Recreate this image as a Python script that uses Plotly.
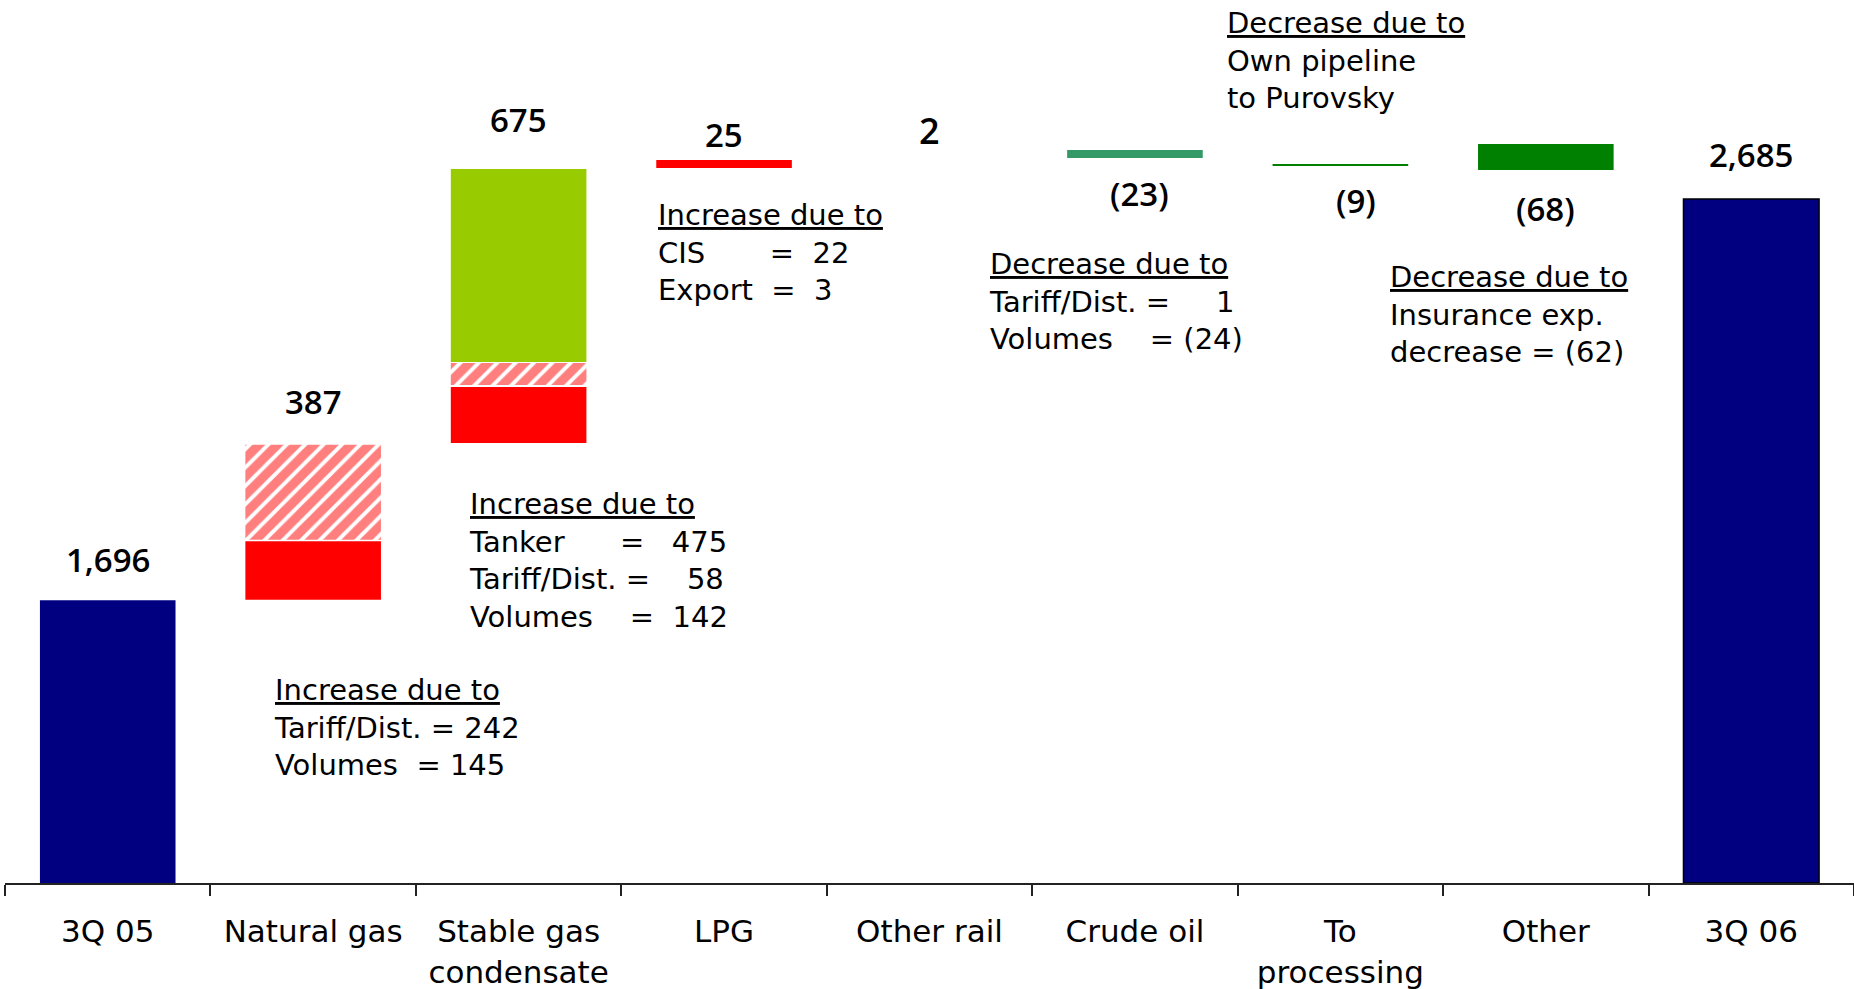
import plotly.graph_objects as go

# categories along the x axis
categories = [
    "3Q 05", "Natural gas", "Stable gas<br>condensate", "LPG", "Other rail",
    "Crude oil", "To<br>processing", "Other", "3Q 06",
]

# reported figures shown above each column
value_labels = ["1,696", "387", "675", "25", "2", "(23)", "(9)", "(68)", "2,685"]
# vertical position of each figure, read off the (not-to-scale) graphic
value_label_y = [1944, 2892, 4584, 4494, 4518, 4140, 4098, 4050, 4374]

# segment heights as drawn in the graphic (broken scale), chart units
total_x = ["3Q 05", "3Q 06"]
total_height = [1696, 4104]

red_x = ["Natural gas", "Stable gas<br>condensate", "LPG"]
red_base = [1700, 2640, 4290]
red_height = [350, 336, 48]

hatch_x = ["Natural gas", "Stable gas<br>condensate"]
hatch_base = [2060, 2988]
hatch_height = [570, 132]

lime_x = ["Stable gas<br>condensate"]
lime_base = [3126]
lime_height = [1158]

teal_x = ["Crude oil"]
teal_base = [4350]
teal_height = [48]

green_x = ["To<br>processing", "Other"]
green_base = [4302, 4278]
green_height = [12, 156]

# explanation boxes: header, detail lines, left edge (category index), middle y
note_headers = [
    "Increase due to", "Increase due to", "Increase due to",
    "Decrease due to", "Decrease due to", "Decrease due to",
]
note_lines = [
    ["Tariff/Dist. = 242", "Volumes\u00a0\u00a0= 145"],
    ["Tanker\u00a0\u00a0\u00a0\u00a0\u00a0\u00a0=\u00a0\u00a0\u00a0475",
     "Tariff/Dist. =\u00a0\u00a0\u00a0\u00a058",
     "Volumes\u00a0\u00a0\u00a0\u00a0=\u00a0\u00a0142"],
    ["CIS\u00a0\u00a0\u00a0\u00a0\u00a0\u00a0\u00a0=\u00a0\u00a022",
     "Export\u00a0\u00a0=\u00a0\u00a03"],
    ["Tariff/Dist. =\u00a0\u00a0\u00a0\u00a0\u00a01",
     "Volumes\u00a0\u00a0\u00a0\u00a0= (24)"],
    ["Own pipeline", "to Purovsky"],
    ["Insurance exp.", "decrease = (62)"],
]
note_x = [0.80, 1.75, 2.67, 4.28, 5.44, 6.23]
note_y = [933, 1938, 3786, 3492, 4938, 3411]

NAVY = "#000080"
RED = "#FF0000"
LIME = "#99CC00"
TEAL = "#339966"
GREEN = "#008000"
BAR_W = 0.66

fig = go.Figure()

fig.add_trace(go.Bar(
    x=total_x, y=total_height, base=[0, 0], width=BAR_W,
    marker=dict(color=NAVY, line=dict(color=["rgba(0,0,0,0)", "#000000"], width=1.5)),
))
fig.add_trace(go.Bar(
    x=red_x, y=red_height, base=red_base, width=BAR_W,
    marker=dict(color=RED, line=dict(width=0)),
))
fig.add_trace(go.Bar(
    x=hatch_x, y=hatch_height, base=hatch_base, width=BAR_W,
    marker=dict(
        color="white", line=dict(width=0),
        pattern=dict(shape="/", fgcolor=RED, bgcolor="white", size=13, solidity=0.7),
    ),
))
fig.add_trace(go.Bar(
    x=lime_x, y=lime_height, base=lime_base, width=BAR_W,
    marker=dict(color=LIME, line=dict(width=0)),
))
fig.add_trace(go.Bar(
    x=teal_x, y=teal_height, base=teal_base, width=BAR_W,
    marker=dict(color=TEAL, line=dict(width=0)),
))
fig.add_trace(go.Bar(
    x=green_x, y=green_height, base=green_base, width=BAR_W,
    marker=dict(color=GREEN, line=dict(width=0)),
))

# figures above the columns (a couple sit slightly right of centre)
label_dx = [0, 0, 0, 0, 0, 5, 16, 0, 0]
for cat, txt, yy, dx in zip(categories, value_labels, value_label_y, label_dx):
    size = 36 if txt == "2" else 33
    fig.add_annotation(
        x=cat, y=yy, text=txt, showarrow=False, xanchor="center", yanchor="middle",
        xshift=dx, font=dict(family="Open Sans", size=size, color="black", weight=600),
    )

# explanation notes
for head, lines, xx, yy in zip(note_headers, note_lines, note_x, note_y):
    text = ('<span style="text-decoration:underline;text-decoration-thickness:3px">'
            + head + "</span><br>" + "<br>".join(lines))
    fig.add_annotation(
        x=xx, y=yy, text=text, showarrow=False, xanchor="left", yanchor="middle",
        align="left", font=dict(family="DejaVu Sans", size=29, color="black"),
    )

fig.update_xaxes(
    type="category", categoryorder="array", categoryarray=categories,
    range=[-0.5, 8.5], showline=True, linecolor="#222222", linewidth=2,
    ticks="outside", tickson="boundaries", ticklen=11, tickwidth=1.5,
    tickcolor="#222222", showgrid=False, zeroline=False, ticklabelstandoff=20,
    tickfont=dict(family="DejaVu Sans", size=31, color="black"),
)
fig.update_yaxes(visible=False, range=[0, 5298], showgrid=False, zeroline=False)

fig.update_layout(
    width=1854, height=989,
    margin=dict(l=5, r=0, t=0, b=106),
    barmode="overlay", showlegend=False,
    plot_bgcolor="white", paper_bgcolor="white",
)

# the page's default body margin would offset the figure
fig.write_html(
    "out.html",
    config={"displayModeBar": False},
    post_script="document.body.style.margin='0';",
)
